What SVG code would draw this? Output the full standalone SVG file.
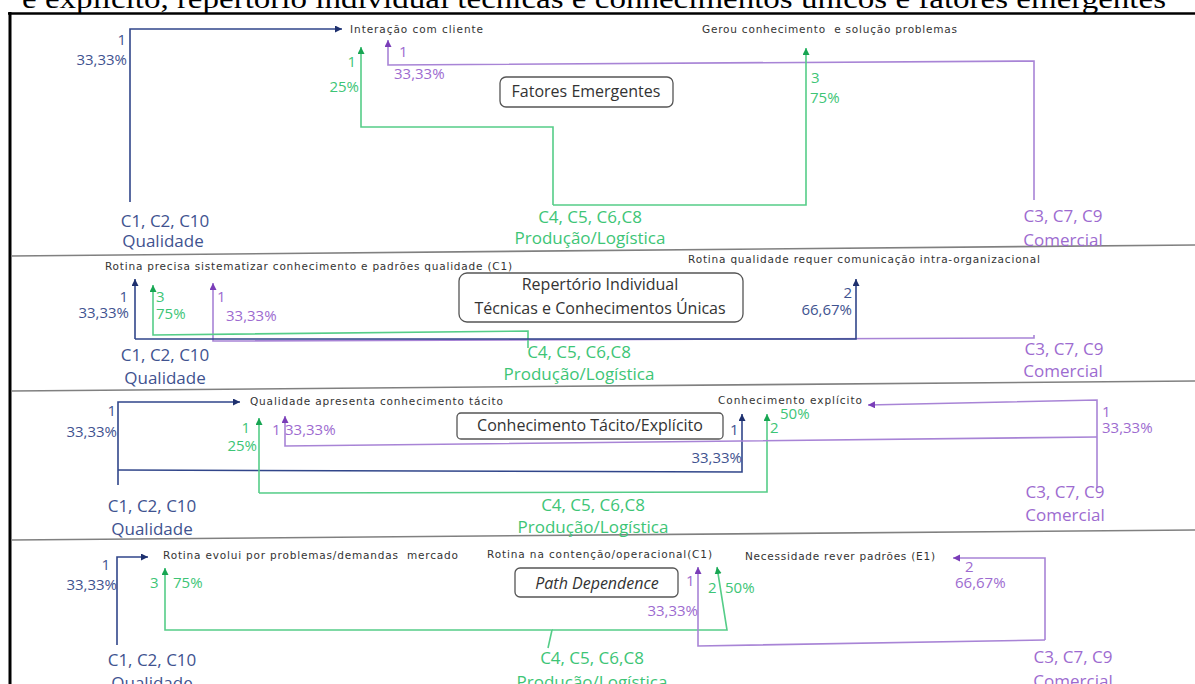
<svg xmlns="http://www.w3.org/2000/svg" width="1195" height="684" viewBox="0 0 1195 684">
  <style>
    .title { font-family: "Liberation Serif", serif; font-size: 27px; fill: #000; }
    .small { font-family: "DejaVu Sans", sans-serif; font-size: 10.5px; fill: #333; white-space: pre; }
    .big { font-family: "Open Sans", sans-serif; font-size: 17px; text-anchor: middle; }
    .num { font-family: "Open Sans", sans-serif; font-size: 15px; }
    .end { text-anchor: end; }
    .tn { fill: #3F5390; }
    .tg { fill: #3DC576; }
    .tp { fill: #9D6BD0; }
    .box { fill: #fff; stroke: #555; stroke-width: 1.3; }
    .boxt { font-family: "Open Sans", sans-serif; font-size: 16px; fill: #333; text-anchor: middle; }
    .ln { fill: none; stroke: #31468A; stroke-width: 1.6; }
    .lg { fill: none; stroke: #55CD88; stroke-width: 1.6; }
    .lp { fill: none; stroke: #A884D6; stroke-width: 1.6; }
    .divider { fill: none; stroke: #808080; stroke-width: 1.6; }
  </style>
  <defs>
    <marker id="an" markerUnits="userSpaceOnUse" markerWidth="8" markerHeight="8" refX="7" refY="3.5" orient="auto">
      <path d="M0,0 L7,3.5 L0,7 z" fill="#1E306E"/>
    </marker>
    <marker id="ag" markerUnits="userSpaceOnUse" markerWidth="8" markerHeight="8" refX="7" refY="3.5" orient="auto">
      <path d="M0,0 L7,3.5 L0,7 z" fill="#17A552"/>
    </marker>
    <marker id="ap" markerUnits="userSpaceOnUse" markerWidth="8" markerHeight="8" refX="7" refY="3.5" orient="auto">
      <path d="M0,0 L7,3.5 L0,7 z" fill="#7A3DB8"/>
    </marker>
  </defs>

  <rect x="0" y="0" width="1195" height="684" fill="#fff"/>

  <!-- caption line above the table (clipped at top) -->
  <text class="title" x="22" y="8" textLength="1144" lengthAdjust="spacingAndGlyphs">e explícito, repertório individual técnicas e conhecimentos únicos e fatores emergentes</text>

  <!-- table frame and row separators -->
  <g id="frame">
    <path d="M8,13.5 H1195" stroke="#000" stroke-width="2.6" fill="none"/>
    <path d="M10,12 V684" stroke="#000" stroke-width="3" fill="none"/>
    <path class="divider" d="M11,256 L1195,245"/>
    <path class="divider" d="M11,391 L1195,381"/>
    <path class="divider" d="M11,540 L1195,530"/>
  </g>

  <g id="connectors">
    <!-- row 1: Fatores Emergentes -->
    <path class="lp" d="M1034,200 V61 L388,65 V40" marker-end="url(#ap)"/>
    <path class="ln" d="M130,202 V29 H342" marker-end="url(#an)"/>
    <path class="lg" d="M553,205 V127 H361 V47" marker-end="url(#ag)"/>
    <path class="lg" d="M553,205 H806 V48" marker-end="url(#ag)"/>

    <!-- row 2: Repertório Individual -->
    <path class="lp" d="M1034,335 V338 L213,341 V283" marker-end="url(#ap)"/>
    <path class="lg" d="M528,348 V331 L153,335 V285" marker-end="url(#ag)"/>
    <path class="ln" d="M135,339 V279" marker-end="url(#an)"/>
    <path class="ln" d="M135,339 H856 V279" marker-end="url(#an)"/>

    <!-- row 3: Conhecimento Tácito/Explícito -->
    <path class="ln" d="M118,485 V402 H240" marker-end="url(#an)"/>
    <path class="ln" d="M118,470 L742,472 V414" marker-end="url(#an)"/>
    <path class="lg" d="M259,493 V418" marker-end="url(#ag)"/>
    <path class="lg" d="M259,493 L767,492 V414" marker-end="url(#ag)"/>
    <path class="lp" d="M1097,488 V400 L868,405" marker-end="url(#ap)"/>
    <path class="lp" d="M1097,437 L285,446 V416" marker-end="url(#ap)"/>

    <!-- row 4: Path Dependence -->
    <path class="ln" d="M117,645 V557 H148" marker-end="url(#an)"/>
    <path class="lg" d="M548,648 L552,630 H165 V568" marker-end="url(#ag)"/>
    <path class="lg" d="M552,630 H727 L717,567" marker-end="url(#ag)"/>
    <path class="lp" d="M1045,640 V558 H953" marker-end="url(#ap)"/>
    <path class="lp" d="M1045,640 L698,646 V567" marker-end="url(#ap)"/>
  </g>

  <!-- ===== Row 1 ===== -->
  <g id="r1-qualidade">
    <text class="big tn" x="165" y="227">C1, C2, C10</text>
    <text class="big tn" x="163" y="247">Qualidade</text>
  </g>
  <g id="r1-producao">
    <text class="big tg" x="590" y="223">C4, C5, C6,C8</text>
    <text class="big tg" x="590" y="244">Produção/Logística</text>
  </g>
  <g id="r1-comercial">
    <text class="big tp" x="1063" y="222">C3, C7, C9</text>
    <text class="big tp" x="1063" y="246">Comercial</text>
  </g>
  <g id="r1-interacao">
    <text class="small" x="350" y="33" textLength="133">Interação com cliente</text>
  </g>
  <g id="r1-gerou">
    <text class="small" x="702" y="33" textLength="255">Gerou conhecimento  e solução problemas</text>
  </g>
  <g id="r1-titulo">
    <rect class="box" x="500" y="77" width="173" height="30" rx="6"/>
    <text class="boxt" x="586" y="97">Fatores Emergentes</text>
  </g>
  <g id="r1-valores">
    <text class="num tn end" x="126" y="45">1</text>
    <text class="num tn end" x="127" y="65">33,33%</text>
    <text class="num tg end" x="356" y="67">1</text>
    <text class="num tg end" x="359" y="92">25%</text>
    <text class="num tp" x="399" y="57">1</text>
    <text class="num tp" x="394" y="79">33,33%</text>
    <text class="num tg" x="811" y="83">3</text>
    <text class="num tg" x="810" y="103">75%</text>
  </g>

  <!-- ===== Row 2 ===== -->
  <g id="r2-qualidade">
    <text class="big tn" x="165" y="361">C1, C2, C10</text>
    <text class="big tn" x="165" y="384">Qualidade</text>
  </g>
  <g id="r2-producao">
    <text class="big tg" x="579" y="358">C4, C5, C6,C8</text>
    <text class="big tg" x="579" y="380">Produção/Logística</text>
  </g>
  <g id="r2-comercial">
    <text class="big tp" x="1064" y="355">C3, C7, C9</text>
    <text class="big tp" x="1063" y="377">Comercial</text>
  </g>
  <g id="r2-sistematizar">
    <text class="small" x="105" y="270" textLength="407">Rotina precisa sistematizar conhecimento e padrões qualidade (C1)</text>
  </g>
  <g id="r2-comunicacao">
    <text class="small" x="688" y="263" textLength="352">Rotina qualidade requer comunicação intra-organizacional</text>
  </g>
  <g id="r2-titulo">
    <rect class="box" x="459" y="273" width="284" height="49" rx="8"/>
    <text class="boxt" x="600" y="290">Repertório Individual</text>
    <text class="boxt" x="600" y="314">Técnicas e Conhecimentos Únicas</text>
  </g>
  <g id="r2-valores">
    <text class="num tn end" x="128" y="302">1</text>
    <text class="num tn end" x="129" y="318">33,33%</text>
    <text class="num tg" x="156" y="302">3</text>
    <text class="num tg" x="156" y="319">75%</text>
    <text class="num tp" x="217" y="302">1</text>
    <text class="num tp" x="226" y="321">33,33%</text>
    <text class="num tn end" x="852" y="298">2</text>
    <text class="num tn end" x="852" y="315">66,67%</text>
  </g>

  <!-- ===== Row 3 ===== -->
  <g id="r3-qualidade">
    <text class="big tn" x="152" y="512">C1, C2, C10</text>
    <text class="big tn" x="152" y="535">Qualidade</text>
  </g>
  <g id="r3-producao">
    <text class="big tg" x="593" y="511">C4, C5, C6,C8</text>
    <text class="big tg" x="593" y="533">Produção/Logística</text>
  </g>
  <g id="r3-comercial">
    <text class="big tp" x="1065" y="498">C3, C7, C9</text>
    <text class="big tp" x="1065" y="521">Comercial</text>
  </g>
  <g id="r3-tacito">
    <text class="small" x="250" y="405" textLength="253">Qualidade apresenta conhecimento tácito</text>
  </g>
  <g id="r3-explicito">
    <text class="small" x="718" y="404" textLength="144">Conhecimento explícito</text>
  </g>
  <g id="r3-titulo">
    <rect class="box" x="457" y="413" width="266" height="26" rx="4"/>
    <text class="boxt" x="590" y="431" font-size="17">Conhecimento Tácito/Explícito</text>
  </g>
  <g id="r3-valores">
    <text class="num tn end" x="116" y="416">1</text>
    <text class="num tn end" x="117" y="437">33,33%</text>
    <text class="num tg end" x="250" y="433">1</text>
    <text class="num tg end" x="257" y="451">25%</text>
    <text class="num tp" x="272" y="435">1</text>
    <text class="num tp" x="285" y="435">33,33%</text>
    <text class="num tn" x="730" y="435">1</text>
    <text class="num tn end" x="742" y="463">33,33%</text>
    <text class="num tg" x="770" y="433">2</text>
    <text class="num tg" x="780" y="419">50%</text>
    <text class="num tp" x="1102" y="417">1</text>
    <text class="num tp" x="1102" y="433">33,33%</text>
  </g>

  <!-- ===== Row 4 ===== -->
  <g id="r4-qualidade">
    <text class="big tn" x="152" y="666">C1, C2, C10</text>
    <text class="big tn" x="152" y="689">Qualidade</text>
  </g>
  <g id="r4-producao">
    <text class="big tg" x="592" y="664">C4, C5, C6,C8</text>
    <text class="big tg" x="592" y="688">Produção/Logística</text>
  </g>
  <g id="r4-comercial">
    <text class="big tp" x="1073" y="663">C3, C7, C9</text>
    <text class="big tp" x="1073" y="687">Comercial</text>
  </g>
  <g id="r4-evolui">
    <text class="small" x="163" y="559" textLength="295">Rotina evolui por problemas/demandas  mercado</text>
  </g>
  <g id="r4-contencao">
    <text class="small" x="487" y="558" textLength="225">Rotina na contenção/operacional(C1)</text>
  </g>
  <g id="r4-padroes">
    <text class="small" x="745" y="560" textLength="190">Necessidade rever padrões (E1)</text>
  </g>
  <g id="r4-titulo">
    <rect class="box" x="515" y="568" width="163" height="29" rx="5"/>
    <text class="boxt" x="597" y="589" font-style="italic">Path Dependence</text>
  </g>
  <g id="r4-valores">
    <text class="num tn end" x="110" y="570">1</text>
    <text class="num tn end" x="117" y="590">33,33%</text>
    <text class="num tg" x="150" y="588">3</text>
    <text class="num tg" x="173" y="588">75%</text>
    <text class="num tp" x="686" y="586">1</text>
    <text class="num tp end" x="698" y="616">33,33%</text>
    <text class="num tg" x="708" y="593">2</text>
    <text class="num tg" x="725" y="593">50%</text>
    <text class="num tp" x="965" y="572">2</text>
    <text class="num tp" x="955" y="588">66,67%</text>
  </g>
</svg>
